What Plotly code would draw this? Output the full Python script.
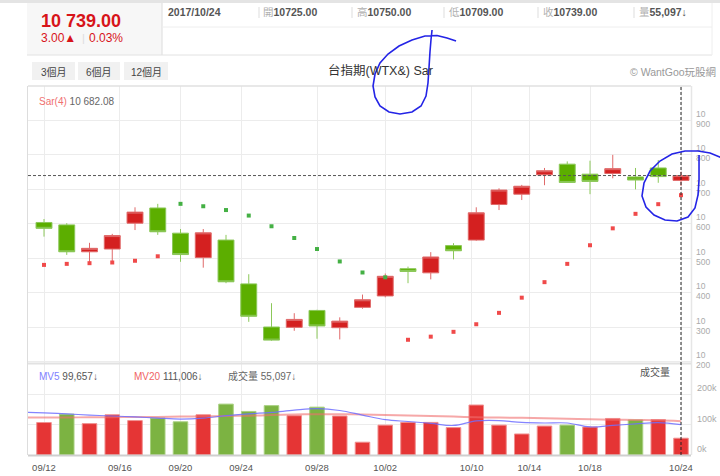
import numpy as np
import pandas as pd
import plotly.graph_objects as go

# ---------------- data ----------------
dates = ['2017-09-12', '2017-09-13', '2017-09-14', '2017-09-15', '2017-09-18', '2017-09-19',
         '2017-09-20', '2017-09-21', '2017-09-22', '2017-09-25', '2017-09-26', '2017-09-27',
         '2017-09-28', '2017-09-29', '2017-09-30', '2017-10-02', '2017-10-03', '2017-10-05',
         '2017-10-06', '2017-10-11', '2017-10-12', '2017-10-13', '2017-10-16', '2017-10-17',
         '2017-10-18', '2017-10-19', '2017-10-20', '2017-10-23', '2017-10-24']
opens = [10603, 10596, 10518, 10526, 10601, 10645, 10572, 10501, 10552, 10425, 10300, 10299, 10348, 10298,
         10357, 10390, 10469, 10457, 10536, 10552, 10655, 10685, 10741, 10772, 10743, 10745, 10735, 10761, 10725]
highs = [10613, 10601, 10544, 10570, 10647, 10657, 10584, 10584, 10567, 10453, 10369, 10340, 10350, 10328,
         10394, 10455, 10475, 10517, 10543, 10647, 10702, 10712, 10761, 10780, 10782, 10799, 10761, 10784, 10750]
lows = [10562, 10509, 10485, 10489, 10581, 10567, 10489, 10472, 10427, 10315, 10260, 10289, 10266, 10264,
        10353, 10386, 10427, 10438, 10496, 10550, 10639, 10668, 10711, 10719, 10685, 10731, 10699, 10718, 10709]
closes = [10586, 10518, 10528, 10565, 10633, 10576, 10510, 10573, 10431, 10331, 10262, 10322, 10303, 10317,
          10379, 10447, 10461, 10503, 10521, 10631, 10697, 10708, 10753, 10719, 10722, 10759, 10726, 10736, 10739]
sar = [10480, 10483, 10485, 10487, 10492, 10505, 10657, 10650, 10639, 10623, 10592, 10558, 10526, 10490,
       10458, 10444, 10263, 10272, 10286, 10308, 10341, 10385, 10430, 10483, 10537, 10586, 10628, 10656, 10682.08]
volumes = [106600, 134000, 103000, 132000, 113000, 121000, 109000, 132000, 167000, 143000, 162000, 129000,
           157000, 128000, 42000, 98000, 107000, 107000, 90000, 164000, 98000, 69000, 95000, 98000, 92000,
           120000, 115000, 116000, 55097]
# moving averages, first value is the (clipped) day before 09/12
ma_dates_offset = -1
mv5 = [141000, 138000, 135000, 131000, 128000, 125000, 121000, 118000, 121000, 129000, 135000, 140000,
       147000, 152000, 146000, 131000, 116000, 110000, 104000, 97000, 112000, 113000, 107000, 105000,
       105000, 92000, 97000, 102000, 106000, 99657]
mv20 = [123000, 123000, 123000, 124000, 124000, 125000, 125000, 126000, 127000, 128000, 129000, 131000,
        133000, 134000, 134000, 133000, 131000, 130000, 128000, 126000, 124000, 123000, 122000, 121000,
        119000, 117000, 116000, 115000, 114000, 111006]
tick_dates = ['2017-09-12', '2017-09-16', '2017-09-20', '2017-09-24', '2017-09-28', '2017-10-02',
              '2017-10-10', '2017-10-14', '2017-10-18', '2017-10-24']
tick_labels = ['09/12', '09/16', '09/20', '09/24', '09/28', '10/02', '10/10', '10/14', '10/18', '10/24']
price_ticks = [10200, 10300, 10400, 10500, 10600, 10700, 10800, 10900]
vol_ticks = [0, 100000, 200000]
vol_tick_labels = ['0k', '100k', '200k']

# ---------------- helpers ----------------
W, H = 720, 476
L, R, T, B = 28, 691, 86, 455
def px(x):
    return (x - L) / (R - L)
def py(y):
    return (B - y) / (B - T)

idx = np.arange(len(dates))
d_ord = pd.to_datetime(dates).map(pd.Timestamp.toordinal).values.astype(float)
t_ord = pd.to_datetime(tick_dates).map(pd.Timestamp.toordinal).values.astype(float)
tick_pos = np.interp(t_ord, d_ord, idx)
ma_x = np.arange(len(mv5)) + ma_dates_offset

RED_C, RED_L = '#d42020', '#e06a6a'
GRN_C, GRN_L = '#5cae00', '#8cc85a'
VOL_RED, VOL_GRN = '#e53535', '#7cb342'

prev = [closes[0] - 1] + closes[:-1]
vol_colors = [VOL_RED if c >= p else VOL_GRN for c, p in zip(closes, prev)]
vol_lines = ['#f09090' if c >= p else '#a8d080' for c, p in zip(closes, prev)]
sar_colors = ['#44b044' if s > lo else '#f04a4a' for s, lo in zip(sar, lows)]

FONT = 'Liberation Sans, Noto Sans CJK TC, sans-serif'

fig = go.Figure()
fig.add_trace(go.Candlestick(
    x=idx, open=opens, high=highs, low=lows, close=closes,
    increasing=dict(fillcolor=RED_C, line=dict(color=RED_L, width=1)),
    decreasing=dict(fillcolor=GRN_C, line=dict(color=GRN_L, width=1)),
    whiskerwidth=0, xaxis='x', yaxis='y', showlegend=False, hoverinfo='skip'))
fig.add_trace(go.Scatter(
    x=idx, y=sar, mode='markers', yaxis='y3',
    marker=dict(symbol='square', size=4, color=sar_colors, line=dict(width=0)),
    showlegend=False, hoverinfo='skip'))
fig.add_trace(go.Bar(
    x=idx, y=volumes, yaxis='y2', marker=dict(color=vol_colors, line=dict(color=vol_lines, width=1)),
    showlegend=False, hoverinfo='skip'))
fig.add_trace(go.Scatter(
    x=ma_x, y=mv20, yaxis='y2', mode='lines', line=dict(color='rgba(240,110,110,0.6)', width=2, shape='spline'),
    showlegend=False, hoverinfo='skip'))
fig.add_trace(go.Scatter(
    x=ma_x, y=mv5, yaxis='y2', mode='lines', line=dict(color='rgba(110,110,255,0.85)', width=1.2, shape='spline'),
    showlegend=False, hoverinfo='skip'))

split = py(364)
p_lo = 10700 - (364 - 189) / 0.345
p_hi = 10700 + (189 - T) / 0.345
x_lo = (L - 44) / 22.75
x_hi = (R - 44) / 22.75

fig.update_layout(
    width=W, height=H, margin=dict(l=L, r=W - R, t=T, b=H - B, autoexpand=False),
    paper_bgcolor='white', plot_bgcolor='white',
    font=dict(family=FONT, color='#555', size=10),
    bargap=0.36, boxgap=0.3, boxgroupgap=0,
    xaxis=dict(anchor='y2', domain=[0, 1], range=[x_lo, x_hi], tickmode='array', tickvals=tick_pos,
               ticktext=tick_labels, showgrid=True, gridcolor='#ececec', gridwidth=1, zeroline=False,
               showline=False, ticks='', tickfont=dict(size=9.5, color='#555'), ticklabelstandoff=5,
               rangeslider=dict(visible=False), fixedrange=True, automargin=False),
    yaxis=dict(domain=[split, 1], anchor='x', side='right', range=[p_lo, p_hi], tickmode='array',
               tickvals=price_ticks, ticktext=[str(v)[2:] for v in price_ticks],
               showgrid=True, gridcolor='#ececec', zeroline=False, ticks='', automargin=False,
               tickfont=dict(size=8.5, color='#aaa'), ticklabelstandoff=4, ticklabelshift=4),
    yaxis3=dict(overlaying='y', anchor='x', side='right', range=[p_lo, p_hi], tickmode='array',
                tickvals=price_ticks, ticktext=[str(v)[:2] for v in price_ticks],
                showgrid=False, zeroline=False, ticks='', automargin=False,
                tickfont=dict(size=8.5, color='#aaa'), ticklabelstandoff=4, ticklabelshift=-6),
    yaxis2=dict(domain=[0, split], anchor='x', side='right', range=[0, (454.5 - 364) / 0.303 * 1000],
                tickmode='array', tickvals=vol_ticks, ticktext=vol_tick_labels, showgrid=True,
                gridcolor='#ececec', zeroline=False, ticks='', tickfont=dict(size=9, color='#aaa'),
                ticklabelstandoff=5, ticklabelshift=-6, automargin=False),
)

shapes = []
def line(x0, y0, x1, y1, color='#ddd', width=1, dash=None):
    d = dict(type='line', xref='paper', yref='paper', x0=px(x0), y0=py(y0), x1=px(x1), y1=py(y1),
             line=dict(color=color, width=width))
    if dash:
        d['line']['dash'] = dash
    shapes.append(d)
def rect(x0, y0, x1, y1, fill):
    shapes.append(dict(type='rect', xref='paper', yref='paper', x0=px(x0), y0=py(y0), x1=px(x1), y1=py(y1),
                       fillcolor=fill, line=dict(width=0), layer='below'))

# header
rect(0, 0, 720, 3, '#e4e4e4')
rect(27, 3, 162, 55, '#f7f7f7')
line(162, 3, 162, 55, '#dcdcdc')
line(162, 27, 712, 27, '#eeeeee')
line(27, 55, 712, 55, '#e2e2e2')
line(712, 3, 712, 55, '#eeeeee')
for sx in [259, 352, 444, 538, 634]:
    line(sx, 7, sx, 18, '#dddddd')
for bx0, bx1 in [(32, 75), (78, 120), (124, 168)]:
    rect(bx0, 62, bx1, 80, '#f1f1f1')
# chart frame
line(L, T, R, T, '#e0e0e0', 1.5)
line(L - 0.5, T, L - 0.5, B, '#dddddd')
line(R + 0.5, T, R + 0.5, B, '#e6e6e6', 1.5)
line(L, 363.5, R, 363.5, '#e2e2e2', 2)
line(L, B + 0.5, R, B + 0.5, '#cfcfcf', 2)
# current price line and last-bar line
shapes.append(dict(type='line', xref='paper', yref='y', x0=0, x1=1, y0=closes[-1], y1=closes[-1],
                   line=dict(color='#555', width=1, dash='3px,2px')))
shapes.append(dict(type='line', xref='x', yref='paper', x0=idx[-1], x1=idx[-1], y0=0, y1=1,
                   line=dict(color='#222', width=1, dash='3px,2px')))

# hand-drawn scribbles
def path(points):
    s = 'M ' + ' L '.join(f'{px(x):.4f},{py(y):.4f}' for x, y in points)
    return dict(type='path', xref='paper', yref='paper', path=s, line=dict(color='#2424e6', width=1.6),
                layer='above')
shapes.append(path([(456, 41), (447, 38), (437, 35.5), (425, 36), (412, 40), (399, 46), (388, 54), (380, 63),
                    (375, 74), (373, 86), (375, 97), (380, 106), (389, 112), (400, 114), (412, 112),
                    (421, 106), (426, 96), (428, 83), (429, 68), (430, 52), (431, 40), (432, 30)]))
shapes.append(path([(722, 158), (710, 153), (698, 151), (685, 151), (672, 154), (660, 161), (650, 171),
                    (644, 183), (642, 196), (646, 207), (654, 215), (665, 220), (677, 221), (688, 217),
                    (695, 208), (698, 195), (699, 180), (699, 165), (699, 155)]))
fig.update_layout(shapes=shapes)

anns = []
def ann(x, y, text, size=10, color='#555', xanchor='left'):
    anns.append(dict(x=px(x), y=py(y), xref='paper', yref='paper', text=text, showarrow=False,
                     xanchor=xanchor, yanchor='middle', font=dict(size=size, color=color, family=FONT)))

ann(39, 21, '<b>10 739.00</b>', 18, '#d7141a')
ann(39, 38, '3.00▲', 12, '#d7141a')
ann(80, 38, '|', 11, '#dddddd')
ann(87, 38, '0.03%', 12, '#d7141a')
ann(166, 12.5, '<b>2017/10/24</b>', 10.5, '#555')
G = '<span style="color:#b0b0b0">%s</span>'
ann(261, 12.5, G % '開' + '<b>10725.00</b>', 10.5, '#555')
ann(355, 12.5, G % '高' + '<b>10750.00</b>', 10.5, '#555')
ann(447, 12.5, G % '低' + '<b>10709.00</b>', 10.5, '#555')
ann(541, 12.5, G % '收' + '<b>10739.00</b>', 10.5, '#555')
ann(637, 12.5, G % '量' + '<b>55,097↓</b>', 10.5, '#555')
ann(53.5, 71.5, '3個月', 10, '#444', 'center')
ann(99, 71.5, '6個月', 10, '#444', 'center')
ann(146, 71.5, '12個月', 10, '#444', 'center')
ann(380, 71, '台指期(WTX&amp;) Sar', 12.5, '#333', 'center')
ann(628, 72, '© WantGoo玩股網', 10.5, '#999')
ann(37, 101, '<span style="color:#f07070">Sar(4)</span> 10 682.08', 10, '#666')
ann(37, 376, '<span style="color:#7f7fff">MV5</span> 99,657↓', 10, '#555')
ann(132, 376, '<span style="color:#f06464">MV20</span> 111,006↓', 10, '#555')
ann(226, 376, '成交量 55,097↓', 10, '#666')
ann(672, 372, '成交量', 10, '#555', 'right')
fig.update_layout(annotations=anns)

fig.write_html('out.html')
